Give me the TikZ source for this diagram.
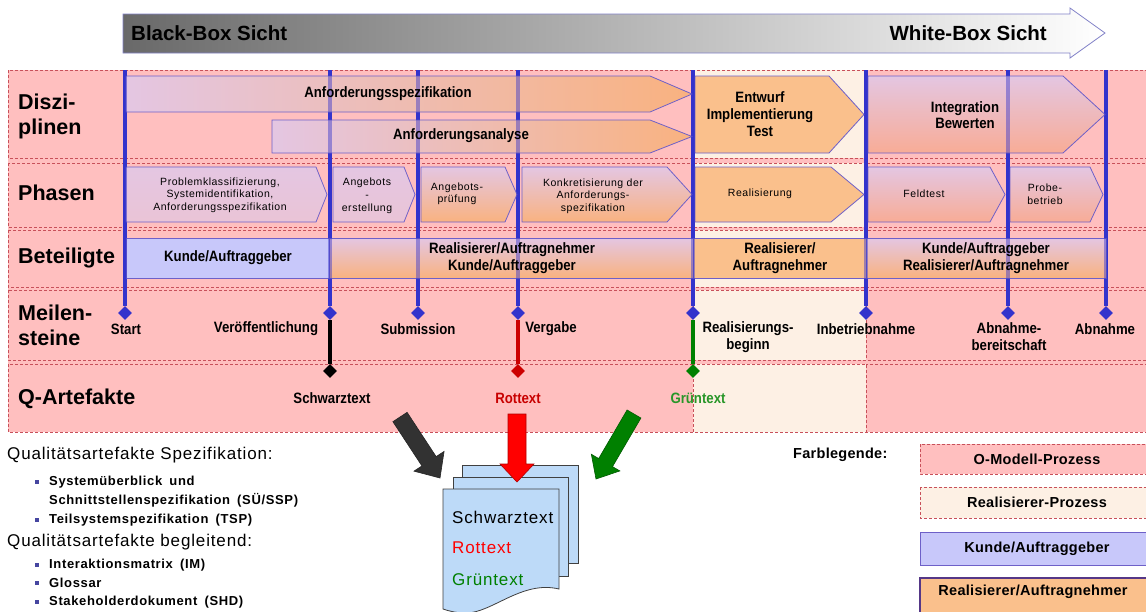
\documentclass[tikz,border=0pt]{standalone}
\usepackage{fontspec}
\setmainfont{Liberation Sans}
\newfontfamily\nb{Liberation Sans}[FakeStretch=0.88]
\newfontfamily\lsa{Liberation Sans}[LetterSpace=5]
\newfontfamily\lsc{Liberation Sans}[LetterSpace=2]
\usetikzlibrary{shapes.geometric,calc}
\newcommand\fsz[2]{\fontsize{#1}{#2}\selectfont}
\newcommand\dsp{\hspace{0.55em}}
\definecolor{pinkbg}{RGB}{255,191,191}
\definecolor{cream}{RGB}{253,240,228}
\definecolor{dashred}{RGB}{200,80,90}
\definecolor{lineblue}{RGB}{51,51,204}
\definecolor{lav}{RGB}{228,198,226}
\definecolor{lavp}{RGB}{234,196,214}
\definecolor{orng}{RGB}{250,192,140}
\definecolor{orng2}{RGB}{249,178,128}
\definecolor{salmon}{RGB}{248,172,150}
\definecolor{kunde}{RGB}{200,200,250}
\definecolor{boxborder}{RGB}{110,96,200}
\definecolor{docblue}{RGB}{189,218,248}
\definecolor{grn}{RGB}{0,128,0}
\definecolor{grntext}{RGB}{40,150,40}
\definecolor{redtext}{RGB}{200,0,0}
\definecolor{darkarrow}{RGB}{50,50,50}
\definecolor{bulblue}{RGB}{70,70,160}
\definecolor{arrowgray}{RGB}{105,105,105}
\definecolor{arrowborder}{RGB}{130,130,200}
\definecolor{legborder}{RGB}{85,55,135}
\tikzset{
  rowbox/.style={draw=dashred, dash pattern=on 3pt off 2pt, line width=0.8pt},
  creambox/.style={rowbox, fill=cream},
  vline/.style={draw=lineblue, line width=3.5pt},
  vlineover/.style={vline, opacity=0.45},
  hbox/.style={draw=boxborder, line width=0.8pt},
  msd/.style={diamond, inner sep=0pt, minimum width=14pt, minimum height=14pt},
  lbl/.style={font=\bfseries\fsz{21.5}{25}, anchor=west, align=left, inner sep=0pt},
  dtxt/.style={font=\nb\bfseries\fsz{15}{17}, align=center, inner sep=0pt},
  ptxt/.style={font=\lsa\fsz{10.5}{12.5}, align=center, inner sep=0pt},
  btxt/.style={font=\nb\bfseries\fsz{15}{17}, align=center, inner sep=0pt},
  mtxt/.style={font=\nb\bfseries\fsz{15}{17}, align=center, inner sep=0pt},
  qtxt/.style={font=\nb\bfseries\fsz{15}{17}, inner sep=0pt},
  hdtxt/.style={font=\lsa\fsz{17}{20}, anchor=west, inner sep=0pt},
  ittxt/.style={font=\lsa\bfseries\fsz{13}{15}, anchor=west, inner sep=0pt},
  bul/.style={rectangle, fill=bulblue, inner sep=0pt, minimum size=4pt},
  legtxt/.style={font=\lsc\bfseries\fsz{14.5}{17}, inner sep=0pt},
  doctxt/.style={font=\lsa\fsz{17}{20}, anchor=west, inner sep=0pt},
  docpage/.style={fill=docblue, draw=black!75, line width=0.8pt},
}
\newcommand\hplate[6]{\path[#1] (#2,#3) -- (#4,#3) -- (#5,{(#3+#6)/2}) -- (#4,#6) -- (#2,#6) -- cycle;}
\newcommand\barrow[6]{%
  \coordinate (hb) at ($(#2)!#6!(#1)$);
  \path[#3] ($(#1)!#4!90:(#2)$) -- ($(hb)!#4!90:(#2)$) -- ($(hb)!#5!90:(#2)$) -- (#2)
    -- ($(hb)!#5!-90:(#2)$) -- ($(hb)!#4!-90:(#2)$) -- ($(#1)!#4!-90:(#2)$) -- cycle;}
\begin{document}
\begin{tikzpicture}[x=1pt,y=-1pt]
\useasboundingbox (0,0) rectangle (1146,611);
\clip (0,0) rectangle (1146,611);
\fill[white] (0,0) rectangle (1146,611);

% top arrow
\shade[left color=arrowgray, right color=white, draw=arrowborder, line width=0.8pt]
  (123,14) -- (1070,14) -- (1070,8) -- (1105,33) -- (1070,58) -- (1070,53) -- (123,53) -- cycle;
\node[font=\bfseries\fsz{20.5}{24}, anchor=west, inner sep=0pt] (bb) at (131,33) {Black-Box Sicht};
\node[font=\bfseries\fsz{20.5}{24}, anchor=east, inner sep=0pt] (wb) at (1047,33) {White-Box Sicht};

% rows
\fill[pinkbg] (8,70) rectangle (1150,432);
\foreach \ya/\yb in {70/158, 163/227, 230/287, 290/360, 364/432} {
  \draw[rowbox] (8,\ya) rectangle (1150,\yb);
  \draw[creambox] (693,\ya) rectangle (866,\yb);
}

% milestones
\foreach \i/\x in {1/125,2/330,3/418,4/518,5/693,6/866,7/1008,8/1106} {
  \coordinate (t\i) at (\x,70);
  \node[msd, fill=lineblue] (m\i) at (\x,313) {};
}
\node[msd, fill=black] (q1) at (330,371) {};
\node[msd, fill=red!80!black] (q2) at (518,371) {};
\node[msd, fill=grn] (q3) at (693,371) {};
\draw[line width=3.5pt, black] (m2) -- (q1);
\draw[line width=3.5pt, red!80!black] (m4) -- (q2);
\draw[line width=3.5pt, grn] (m5) -- (q3);
\foreach \i in {1,...,8} \draw[vline] (t\i) -- (m\i);

% Disziplinen
\hplate{hbox, left color=lav, right color=orng2}{126}{76}{650}{692}{112}
\hplate{hbox, left color=lav, right color=orng2}{272}{120}{650}{692}{153}
\hplate{hbox, fill=orng}{695}{76}{829}{864}{153}
\hplate{hbox, top color=lav, bottom color=salmon}{868}{76}{1063}{1105}{153}
% Phasen
\hplate{hbox, top color=lav, bottom color=lavp}{126}{167}{316}{327}{222}
\hplate{hbox, top color=lav, bottom color=lavp}{333}{167}{404}{415}{222}
\hplate{hbox, top color=lav, bottom color=orng2}{421}{167}{505}{517}{222}
\hplate{hbox, top color=lav, bottom color=orng2}{522}{167}{667}{692}{222}
\hplate{hbox, fill=orng}{695}{167}{831}{864}{222}
\hplate{hbox, top color=lav, bottom color=salmon}{868}{167}{990}{1005}{222}
\hplate{hbox, top color=lav, bottom color=salmon}{1010}{167}{1090}{1103}{222}
% Beteiligte
\path[hbox, fill=kunde] (126,238) rectangle (329,278);
\path[hbox, top color=lav, bottom color=orng2] (329,238) rectangle (693,278);
\path[hbox, fill=orng] (693,238) rectangle (866,278);
\path[hbox, top color=lav, bottom color=orng2] (866,238) rectangle (1106,278);

% blue lines shown through boxes
\foreach \i in {1,...,8} \draw[vlineover] (t\i) -- (m\i);

% texts Disziplinen
\node[dtxt] (d1) at (388,94) {Anforderungsspezifikation};
\node[dtxt] (d2) at (461,136) {Anforderungsanalyse};
\node[dtxt] (d3) at (760,114) {Entwurf\\Implementierung\\Test};
\node[dtxt, font=\nb\bfseries\fsz{15}{16}] (d4) at (965,115) {Integration\\Bewerten};
% texts Phasen
\node[ptxt] (p1) at (220,195) {Problemklassifizierung,\\Systemidentifikation,\\Anforderungsspezifikation};
\node[ptxt, font=\lsa\fsz{10.5}{13}] (p2) at (367,196) {Angebots\\-\\erstellung};
\node[ptxt] (p3) at (457,194) {Angebots-\\prüfung};
\node[ptxt] (p4) at (593,196) {Konkretisierung der\\Anforderungs-\\spezifikation};
\node[ptxt] (p5) at (760,194) {Realisierung};
\node[ptxt] (p6) at (924,194) {Feldtest};
\node[ptxt] (p7) at (1045,194) {Probe-\\betrieb};
% texts Beteiligte
\node[btxt] (b1) at (228,258) {Kunde/Auftraggeber};
\node[btxt] (b2) at (512,258) {Realisierer/Auftragnehmer\\Kunde/Auftraggeber};
\node[btxt] (b3) at (780,258) {Realisierer/\\Auftragnehmer};
\node[btxt] (b4) at (986,258) {Kunde/Auftraggeber\\Realisierer/Auftragnehmer};
% milestone labels
\node[mtxt] (ls1) at (126,329) {Start};
\node[mtxt] (ls2) at (266,329) {Veröffentlichung};
\node[mtxt] (ls3) at (418,329) {Submission};
\node[mtxt] (ls4) at (551,329) {Vergabe};
\node[mtxt] (ls5) at (748,337) {Realisierungs-\\beginn};
\node[mtxt] (ls6) at (866,329) {Inbetriebnahme};
\node[mtxt] (ls7) at (1009,337) {Abnahme-\\bereitschaft};
\node[mtxt] (ls8) at (1105,329) {Abnahme};
% Q labels
\node[qtxt] (qt1) at (332,398) {Schwarztext};
\node[qtxt, text=redtext] (qt2) at (518,398) {Rottext};
\node[qtxt, text=grntext] (qt3) at (698,398) {Grüntext};

% left labels
\node[lbl] (lD) at (18,116) {Diszi-\\plinen};
\node[lbl] (lP) at (18,193) {Phasen};
\node[lbl] (lB) at (18,258) {Beteiligte};
\node[lbl] (lM) at (18,325) {Meilen-\\steine};
\node[lbl] (lQ) at (18,399) {Q-Artefakte};

% document stack
\draw[docpage] (462,465) rectangle (578,563);
\draw[docpage] (453,477) rectangle (568,576);
\draw[docpage] (443,489) -- (559,489) -- (559,589)
  .. controls (522,580) and (492,613) .. (466,613)
  .. controls (456,613) and (449,611) .. (443,609) -- cycle;
\node[doctxt] (dc1) at (452,517) {Schwarztext};
\node[doctxt, text=red] (dc2) at (452,548) {Rottext};
\node[doctxt, text=grn] (dc3) at (452,580) {Grüntext};

% block arrows
\coordinate (aT1) at (400,417); \coordinate (aP1) at (440,478);
\coordinate (aT2) at (517,414); \coordinate (aP2) at (517,482);
\coordinate (aT3) at (634,414); \coordinate (aP3) at (596,479);
\barrow{aT1}{aP1}{fill=darkarrow, draw=black!85, line width=0.6pt}{8.5pt}{18pt}{20pt}
\barrow{aT2}{aP2}{fill=red, draw=red!70!black, line width=0.6pt}{9pt}{17pt}{18pt}
\barrow{aT3}{aP3}{fill=grn, draw=grn!70!black, line width=0.6pt}{8pt}{16.5pt}{19pt}

% list
\node[hdtxt] (h1) at (7,455) {Qualitätsartefakte Spezifikation:};
\node[bul] (u1) at (37,482) {};
\node[ittxt] (i1) at (49,482) {Systemüberblick\dsp und};
\node[ittxt] (i2) at (49,500) {Schnittstellenspezifikation\dsp(SÜ/SSP)};
\node[bul] (u2) at (37,520) {};
\node[ittxt] (i3) at (49,520) {Teilsystemspezifikation\dsp(TSP)};
\node[hdtxt] (h2) at (7,542) {Qualitätsartefakte begleitend:};
\node[bul] (u3) at (37,565) {};
\node[ittxt] (i4) at (49,565) {Interaktionsmatrix\dsp(IM)};
\node[bul] (u4) at (37,583) {};
\node[ittxt] (i5) at (49,583) {Glossar};
\node[bul] (u5) at (37,602) {};
\node[ittxt] (i6) at (49,602) {Stakeholderdokument\dsp(SHD)};

% legend
\node[legtxt, anchor=west] (fl) at (793,455) {Farblegende:};
\draw[rowbox, fill=pinkbg] (920,444) rectangle (1150,474);
\node[legtxt] (lg1) at (1037,459) {O-Modell-Prozess};
\draw[rowbox, fill=cream] (920,487) rectangle (1150,518);
\node[legtxt] (lg2) at (1037,502.5) {Realisierer-Prozess};
\draw[fill=kunde, draw=boxborder, line width=1pt] (920,532) rectangle (1150,565);
\node[legtxt] (lg3) at (1037,548.5) {Kunde/Auftraggeber};
\draw[fill=orng, draw=legborder, line width=2pt] (920,578) rectangle (1150,625);
\node[legtxt] (lg4) at (1033,592) {Realisierer/Auftragnehmer};
\end{tikzpicture}
\end{document}
